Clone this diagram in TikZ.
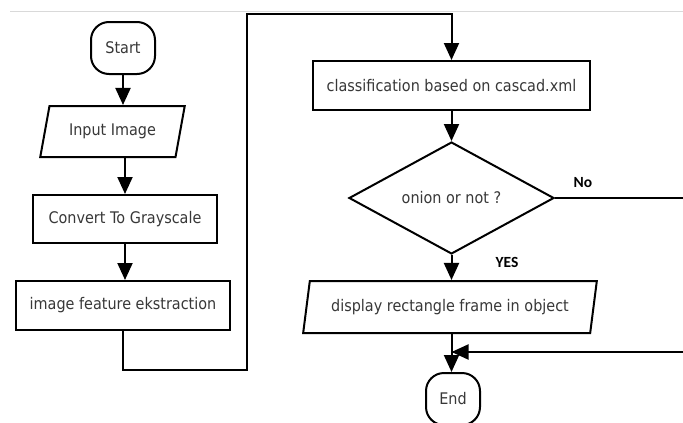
\documentclass[tikz,border=0pt]{standalone}
\usepackage{fontspec}
\setmainfont{DejaVu Sans}[FakeStretch=0.9]
\newfontfamily\labelfont{Carlito}
\usepackage{tikz}
\usepackage{xcolor}
\usetikzlibrary{shapes.geometric,arrows.meta}
\definecolor{flowtext}{HTML}{383838}
\tikzset{
    flow-base/.style = {draw=black, fill=white, line width=2pt, text=flowtext, font=\fontsize{16}{19}\selectfont, inner sep=0pt},
    terminal-box/.style = {flow-base, rectangle, rounded corners=18pt, minimum height=52pt},
    process-box/.style = {flow-base, rectangle, minimum height=49pt},
    io-box/.style = {flow-base, trapezium, trapezium stretches=true, minimum height=52pt},
    decision-box/.style = {flow-base, diamond, minimum width=205pt, minimum height=101pt},
    flow-arrow/.style = {line width=2pt, -{Triangle[width=15pt,length=17pt]}},
    branch-label/.style = {font=\labelfont\bfseries\fontsize{15.5}{18}\selectfont, text=black, inner sep=0pt},
}

\begin{document}
\begin{tikzpicture}[x=1pt, y=-1pt]
\useasboundingbox (0,0) rectangle (683,423);
\clip (0,0) rectangle (683,423);
\fill[white] (0,0) rectangle (683,423);
\draw[color=gray!30, line width=0.8pt] (10,11) -- (683,11);

% left column
\node [terminal-box, minimum width=64pt] (start) at (123,48) {Start};
\node [io-box, minimum width=145pt, minimum height=51pt, trapezium left angle=67, trapezium right angle=113] (input) at (112.5,131.5) {Input Image};
\node [process-box, minimum width=184pt, minimum height=48pt] (gray) at (125,219) {Convert To Grayscale};
\node [process-box, minimum width=214pt] (feature) at (123,305.5) {image feature ekstraction};

% right column
\node [process-box, minimum width=277pt] (classify) at (451.5,85.5) {classification based on cascad.xml};
\node [decision-box] (decide) at (451.5,198) {onion or not ?};
\node [io-box, minimum width=294pt, trapezium left angle=70, trapezium right angle=110] (display) at (450,307) {display rectangle frame in object};
\node [terminal-box, minimum width=54pt] (end) at (453,399) {End};

\node [branch-label] (nolabel) at (583,183) {No};
\node [branch-label] (yeslabel) at (507,262) {YES};

\coordinate (bendlow) at (247,370);
\coordinate (bendtop) at (247,14);
\coordinate (noturn) at (700,352);

\draw [flow-arrow] (start.south) -- (start.south |- input.north);
\draw [flow-arrow] (gray.north |- input.south) -- (gray.north);
\draw [flow-arrow] (gray.south) -- (gray.south |- feature.north);
\draw [flow-arrow] (feature.south) |- (bendlow) -- (bendtop) -| (classify.north);
\draw [flow-arrow] (classify.south) -- (decide.north);
\draw [flow-arrow] (decide.south) -- (decide.south |- display.north);
\draw [flow-arrow] (decide.south |- display.south) -- (decide.south |- end.north);
\draw [flow-arrow] (decide.east) -- (decide.east -| noturn) -- (noturn) -- (noturn -| decide.south);
\end{tikzpicture}
\end{document}
